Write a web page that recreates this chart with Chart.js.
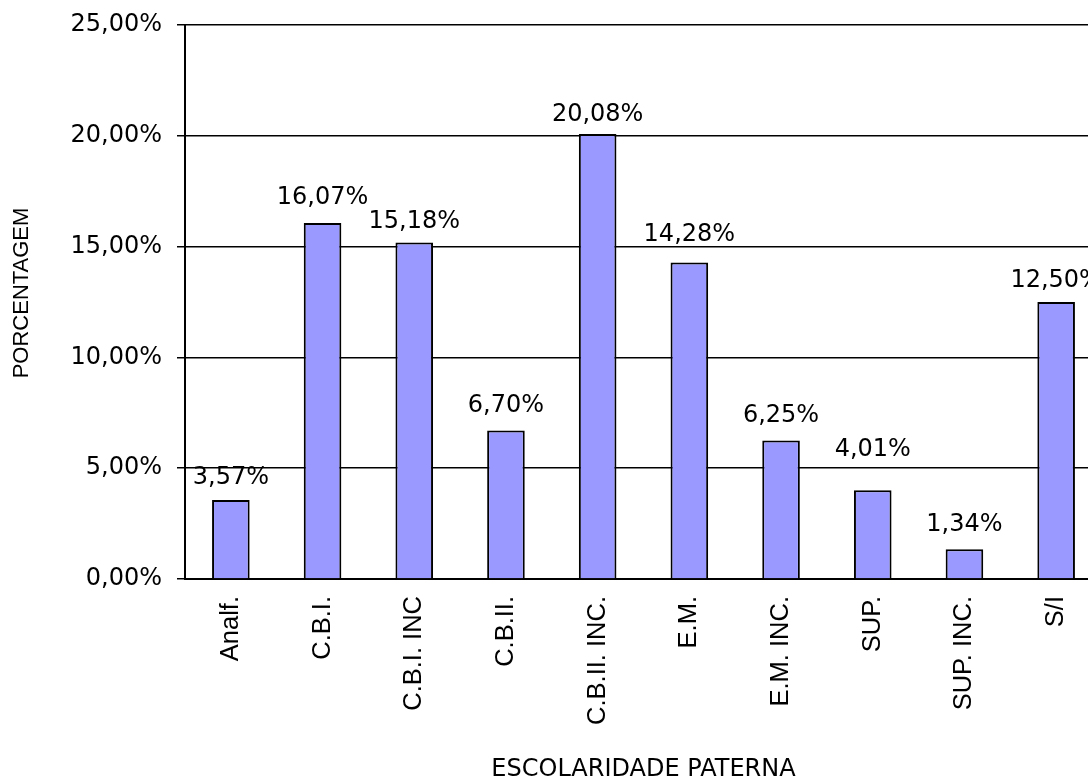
<!DOCTYPE html>
<html lang="pt">
<head>
<meta charset="utf-8">
<title>Escolaridade paterna</title>
<script src="https://cdn.jsdelivr.net/npm/chart.js@4/dist/chart.umd.min.js"></script>
<style>
  html, body { margin: 0; padding: 0; background: #fff; overflow: hidden; }
  #wrap { width: 1104px; height: 778px; }
</style>
</head>
<body>
<div id="wrap"><canvas id="grafico" width="1104" height="778"></canvas></div>
<script>
/* dados */
const categorias = ['Analf.', 'C.B.I.', 'C.B.I. INC', 'C.B.II.', 'C.B.II. INC.',
                    'E.M.', 'E.M. INC.', 'SUP.', 'SUP. INC.', 'S/I'];
const porcentagens = [3.57, 16.07, 15.18, 6.70, 20.08, 14.28, 6.25, 4.01, 1.34, 12.50];
const ticksY = [0, 5, 10, 15, 20, 25];

function fmtPct(v) {
  return v.toFixed(2).replace('.', ',') + '%';
}

/* distância (px) entre a base do texto e o topo de cada barra, como no original */
const folgaRotulo = [16, 19, 15, 19, 13, 22, 19, 34, 18, 15];

/* rótulos acima das barras + título do eixo Y */
const rotulosBarras = {
  id: 'rotulosBarras',
  afterDatasetsDraw(chart) {
    const ctx = chart.ctx;
    const meta = chart.getDatasetMeta(0);
    ctx.save();
    ctx.font = '24px "DejaVu Sans"';
    ctx.fillStyle = '#000';
    ctx.textAlign = 'center';
    ctx.textBaseline = 'alphabetic';
    meta.data.forEach(function (bar, i) {
      ctx.fillText(fmtPct(porcentagens[i]), bar.x, bar.y - folgaRotulo[i]);
    });

    // título vertical (um pouco acima do centro, como no original)
    const area = chart.chartArea;
    ctx.font = '22px "Liberation Sans"';
    ctx.textBaseline = 'middle';
    ctx.translate(22, (area.top + area.bottom) / 2 - 9);
    ctx.rotate(-Math.PI / 2);
    ctx.fillText('PORCENTAGEM', 0, 0);
    ctx.restore();
  }
};

new Chart(document.getElementById('grafico'), {
  type: 'bar',
  data: {
    labels: categorias,
    datasets: [{
      data: porcentagens,
      backgroundColor: '#9999FF',
      borderColor: '#000000',
      borderWidth: 2,
      categoryPercentage: 1,
      barPercentage: 0.41
    }]
  },
  options: {
    responsive: false,
    animation: false,
    layout: { padding: { left: 0, right: 2, top: 25, bottom: 0 } },
    plugins: {
      legend: { display: false },
      tooltip: { enabled: false }
    },
    scales: {
      x: {
        grid: { display: false },
        border: { display: true, color: '#000', width: 2 },
        ticks: {
          color: '#000',
          font: { family: '"Liberation Sans"', size: 25.5 },
          minRotation: 90,
          maxRotation: 90,
          padding: 9,
          autoSkip: false
        },
        title: {
          display: true,
          text: 'ESCOLARIDADE PATERNA',
          color: '#000',
          font: { family: '"DejaVu Sans"', size: 24, lineHeight: 1 },
          padding: { top: 0, bottom: -4 }
        },
        afterFit(scale) {
          scale.height = 199;
          scale.paddingLeft = 0;
          scale.paddingRight = 0;
        }
      },
      y: {
        min: 0,
        max: 25,
        afterBuildTicks(scale) {
          scale.ticks = ticksY.map(v => ({ value: v }));
        },
        grid: { color: '#000', lineWidth: 1.5, tickLength: 8 },
        border: { display: true, color: '#000', width: 2 },
        ticks: {
          color: '#000',
          font: { family: '"DejaVu Sans"', size: 24 },
          padding: 15,
          callback: v => fmtPct(v)
        },
        title: { display: false },
        afterFit(scale) {
          scale.width = 185;
          scale.paddingTop = 0;
          scale.paddingBottom = 0;
        }
      }
    }
  },
  plugins: [rotulosBarras]
});
</script>
</body>
</html>
